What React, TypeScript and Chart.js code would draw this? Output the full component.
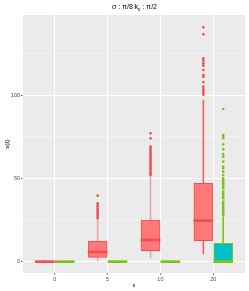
import { useEffect, useRef } from 'react';
import { Chart, registerables } from 'chart.js';

Chart.register(...registerables);

const CATEGORIES = ['0', '5', '10', '20'];
const Y_TICKS = [0, 25, 50, 75, 100, 125];
const Y_LABELED = [0, 50, 100];

const RED_LOWER = [0, 0.4, 2.2, 4.6];
const RED_Q1 = [0, 2.6, 6.6, 12.6];
const RED_MEDIAN = [0, 5.8, 13, 24.6];
const RED_Q3 = [0, 12.2, 25, 47];
const RED_UPPER = [0, 25, 51, 97];
const RED_OUTLIERS = [
  [0],
  [26, 27, 28, 29, 30, 31, 32, 33, 34, 35, 39.6],
  [52, 53, 54, 55, 56, 57, 58, 59, 60, 61, 62, 63, 64, 65, 66, 67, 68, 69, 74, 77],
  [100.2, 101.4, 102.6, 103.6, 105, 107.8, 111, 112, 115, 117.6, 119, 120.6, 122, 136.4, 140.6],
];

const GREEN_LOWER = [0, 0, 0, 0];
const GREEN_Q1 = [0, 0, 0, 0];
const GREEN_MEDIAN = [0, 0, 0, 0];
const GREEN_Q3 = [0, 0, 0, 11];
const GREEN_UPPER = [0, 0, 0, 27];
const GREEN_OUTLIERS = [
  [0],
  [0],
  [0],
  [28, 29, 30, 31, 32, 33, 34, 35, 36, 38, 39, 40, 41, 42, 44, 45, 46, 47, 48, 49, 50, 52, 54, 56, 57, 60, 63, 64.6, 67.4, 70.4, 74, 75, 76, 91.6],
];

const RED = '#F05050';
const RED_FILL = '#FF7878';
const GREEN = '#7DC316';
const CYAN = '#00C0C6';
const DODGE = 0.1875;
const FONT = 'Liberation Sans, Arial, sans-serif';

function boxDatasets(
  offset: number,
  lower: number[],
  q1: number[],
  med: number[],
  q3: number[],
  upper: number[],
  outliers: number[][],
  color: string,
  fills: string[],
  whiskerColors: string[],
) {
  const x = (i: number) => i + offset;
  return [
    {
      type: 'scatter' as const,
      data: outliers.flatMap((vals, i) => vals.map((v) => ({ x: x(i), y: v }))),
      backgroundColor: color,
      borderWidth: 0,
      pointRadius: 1.3,
      order: 0,
    },
    {
      type: 'bar' as const,
      data: med.map((m, i) => ({ x: x(i), y: [m - 0.6, m + 0.6] })),
      backgroundColor: color,
      borderWidth: 0,
      barThickness: 19,
      grouped: false,
      order: 1,
    },
    {
      type: 'bar' as const,
      data: q1.map((v, i) => ({ x: x(i), y: [v, q3[i]] })),
      backgroundColor: fills,
      borderColor: color,
      borderWidth: 1,
      borderSkipped: false,
      barThickness: 19,
      grouped: false,
      order: 2,
    },
    {
      type: 'bar' as const,
      data: lower.map((v, i) => ({ x: x(i), y: [v, upper[i]] })),
      backgroundColor: whiskerColors,
      borderWidth: 0,
      barThickness: 1,
      grouped: false,
      order: 3,
    },
  ];
}

const panelBg = {
  id: 'panelBg',
  beforeDraw(chart: any) {
    const { ctx, chartArea } = chart;
    ctx.save();
    ctx.fillStyle = '#EBEBEB';
    ctx.fillRect(chartArea.left, chartArea.top, chartArea.right - chartArea.left, chartArea.bottom - chartArea.top);
    ctx.restore();
  },
};

export default function App() {
  const ref = useRef<HTMLCanvasElement>(null);

  useEffect(() => {
    document.body.style.margin = '0';
    const datasets: any[] = [
      ...boxDatasets(-DODGE, RED_LOWER, RED_Q1, RED_MEDIAN, RED_Q3, RED_UPPER, RED_OUTLIERS, RED,
        CATEGORIES.map(() => RED_FILL),
        ['rgba(240,80,80,0.45)', 'rgba(240,80,80,0.45)', 'rgba(240,80,80,0.45)', '#F46262']),
      ...boxDatasets(DODGE, GREEN_LOWER, GREEN_Q1, GREEN_MEDIAN, GREEN_Q3, GREEN_UPPER, GREEN_OUTLIERS, GREEN,
        [GREEN, GREEN, GREEN, CYAN],
        CATEGORIES.map(() => GREEN)),
    ];
    const chart = new Chart(ref.current!, {
      type: 'bar',
      data: { datasets },
      plugins: [panelBg],
      options: {
        animation: false,
        responsive: false,
        events: [],
        layout: { padding: { top: 15, right: 3, left: 0, bottom: 0 } },
        plugins: { legend: { display: false }, tooltip: { enabled: false }, title: { display: false } },
        scales: {
          x: {
            type: 'linear',
            min: -0.6,
            max: 3.6,
            offset: false,
            afterBuildTicks: (s: any) => {
              s.ticks = CATEGORIES.map((_, i) => ({ value: i }));
            },
            afterFit: (s: any) => {
              s.height = 18;
            },
            ticks: {
              autoSkip: false,
              maxRotation: 0,
              padding: 1,
              color: '#4D4D4D',
              font: { family: FONT, size: 5.5 },
              callback: (v: any) => CATEGORIES[Math.round(Number(v))] ?? '',
            },
            grid: {
              offset: false,
              color: '#FFFFFF',
              lineWidth: 1,
              tickLength: 2,
              tickColor: '#333333',
              tickWidth: 0.6,
            },
            border: { display: false },
            title: {
              display: true,
              text: 'ε',
              color: '#000000',
              font: { family: FONT, size: 6 },
              padding: { top: 0, bottom: 2 },
            },
          },
          y: {
            type: 'linear',
            min: -6.8,
            max: 148,
            afterBuildTicks: (s: any) => {
              s.ticks = Y_TICKS.map((v) => ({ value: v }));
            },
            afterFit: (s: any) => {
              s.width = 23;
            },
            ticks: {
              autoSkip: false,
              padding: 1,
              color: '#4D4D4D',
              font: { family: FONT, size: 5.5 },
              callback: (v: any) => (Y_LABELED.includes(Number(v)) ? String(v) : ''),
            },
            grid: {
              color: (c: any) => (Y_LABELED.includes(c.tick?.value) ? '#FFFFFF' : '#F6F6F6'),
              lineWidth: (c: any) => (Y_LABELED.includes(c.tick?.value) ? 1 : 0.6),
              tickLength: 2,
              tickColor: (c: any) => (Y_LABELED.includes(c.tick?.value) ? '#333333' : 'rgba(0,0,0,0)'),
              tickWidth: 0.6,
            },
            border: { display: false },
            title: {
              display: true,
              text: 's(ξ)',
              color: '#000000',
              font: { family: FONT, size: 6 },
              padding: { top: 3.4, bottom: 0 },
            },
          },
        },
      },
    });
    return () => chart.destroy();
  }, []);

  return (
    <div style={{ position: 'absolute', left: 0, top: 0, width: 249, height: 291, background: '#FFFFFF' }}>
      <canvas ref={ref} width={249} height={291} style={{ display: 'block' }} />
      <div
        style={{
          position: 'absolute',
          left: 23,
          width: 223,
          top: 1.5,
          textAlign: 'center',
          fontFamily: FONT,
          fontSize: 7,
          lineHeight: '9px',
          color: '#000000',
          whiteSpace: 'nowrap',
        }}
      >
        σ : π/8 k<sub style={{ fontSize: 5, verticalAlign: '-1.5px', lineHeight: 0 }}>ε</sub> : π/2
      </div>
    </div>
  );
}
